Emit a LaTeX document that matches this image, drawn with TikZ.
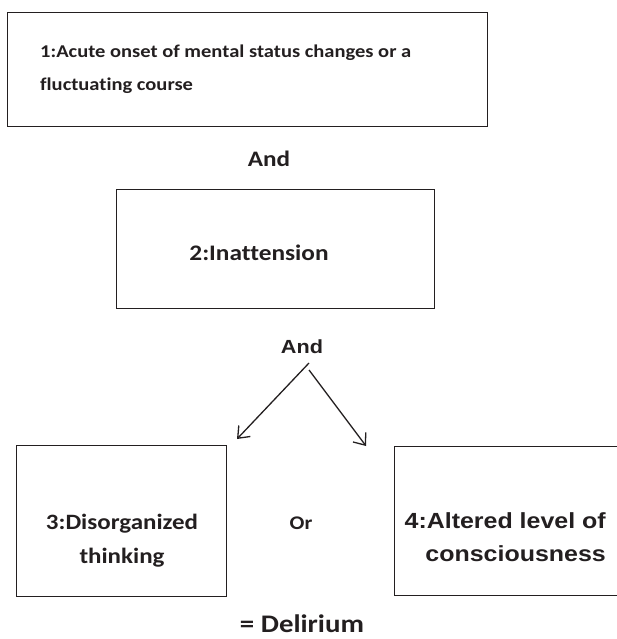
\documentclass[tikz,border=0pt]{standalone}
\usepackage{fontspec}
\setmainfont{Carlito}[FakeStretch=1.14, Ligatures=NoCommon]
\newfontfamily\arialfont{Liberation Sans}[FakeStretch=1.14]
\usetikzlibrary{arrows.meta}
\definecolor{ink}{HTML}{231F20}
\begin{document}
\begin{tikzpicture}[x=1pt,y=-1pt,
  box/.style={draw=ink, line width=1.3pt, inner sep=0pt, anchor=north west},
  cal/.style={text=ink, inner sep=0pt, anchor=base},
  ari/.style={text=ink, inner sep=0pt, anchor=base},
  arr/.style={draw=ink, line width=1.3pt, -{Straight Barb[length=10pt,width=16pt,line width=1.3pt]}}]
\useasboundingbox (0,0) rectangle (616,639);
% boxes
\node[box, minimum width=480pt, minimum height=114pt] (b1) at (7,12) {};
\node[box, minimum width=318pt, minimum height=119pt] (b2) at (116,189) {};
\node[box, minimum width=210pt, minimum height=151pt] (b3) at (16,445) {};
\node[box, minimum width=230pt, minimum height=149pt] (b4) at (394,446) {};
% texts (base anchor = baseline of the last line)
\node[cal, font=\bfseries\fontsize{18}{33}\selectfont, align=left, anchor=base west] (t1) at (40,91) {1:Acute onset of mental status changes or a\\fluctuating course};
\node[cal, font=\bfseries\fontsize{22.1}{26}\selectfont] (and1) at (269,167) {And};
\node[cal, font=\bfseries\fontsize{22.2}{26}\selectfont] (t2) at (259,260.5) {2:Inattension};
\node[ari, font=\arialfont\bfseries\fontsize{19}{24}\selectfont] (and2) at (302,353) {And};
\node[cal, font=\bfseries\fontsize{21.9}{34}\selectfont, align=center] (t3) at (122,563) {3:Disorganized\\thinking};
\node[cal, font=\bfseries\fontsize{19.3}{24}\selectfont] (or) at (301,529) {Or};
\node[ari, font=\arialfont\bfseries\fontsize{21.9}{33}\selectfont, align=right, anchor=base east] (t4) at (606,561) {4:Altered level of\\consciousness};
\node[cal, font=\bfseries\fontsize{25.3}{30}\selectfont] (del) at (302,632) {= Delirium};
% arrows
\coordinate (s1) at (309,363);
\coordinate (s2) at (309,370);
\coordinate (e1) at (237,439);
\coordinate (e2) at (366,446);
\draw[arr] (s1) -- (e1);
\draw[arr] (s2) -- (e2);
\end{tikzpicture}
\end{document}
